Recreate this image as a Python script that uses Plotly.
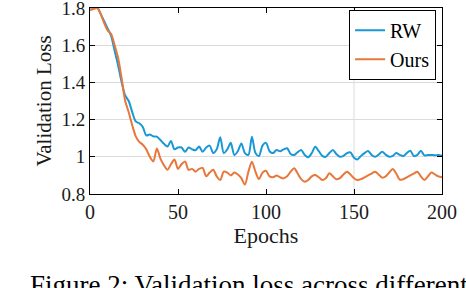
import plotly.graph_objects as go

epochs = list(range(0, 201, 2))

rw_loss = [1.79, 1.795, 1.805, 1.77, 1.73, 1.69, 1.65, 1.57, 1.49, 1.40,
           1.33, 1.30, 1.24, 1.19, 1.18, 1.16, 1.115, 1.12, 1.11, 1.108,
           1.09, 1.07, 1.055, 1.085, 1.04, 1.05, 1.05, 1.027, 1.05, 1.04,
           1.035, 1.055, 1.027, 1.05, 1.06, 1.02, 1.04, 1.105, 1.02, 1.04,
           1.075, 1.01, 1.03, 1.072, 1.02, 1.01, 1.108, 1.02, 1.004, 1.06,
           1.075, 1.03, 1.02, 1.037, 1.03, 1.04, 1.046, 1.015, 1.01, 1.025,
           1.037, 1.01, 0.997, 1.02, 1.054, 1.03, 1.005, 1.0, 1.02, 1.037,
           1.015, 1.0, 1.005, 1.02, 1.024, 0.995, 0.986, 1.005, 1.02, 1.031,
           1.01, 1.0, 1.012, 1.027, 1.012, 1.0, 1.005, 1.02, 1.01, 1.004,
           1.02, 1.033, 1.004, 1.01, 1.033, 1.008, 1.01, 1.01, 1.008, 1.01,
           1.006]

ours_loss = [1.79, 1.795, 1.80, 1.77, 1.72, 1.68, 1.66, 1.60, 1.53, 1.42,
             1.30, 1.24, 1.17, 1.11, 1.08, 1.065, 1.04, 1.00, 0.975, 1.045,
             0.99, 0.955, 0.93, 0.96, 0.985, 0.935, 0.96, 0.975, 0.93, 0.935,
             0.92, 0.935, 0.94, 0.895, 0.915, 0.93, 0.895, 0.875, 0.92, 0.915,
             0.90, 0.915, 0.905, 0.885, 0.85, 0.92, 0.974, 0.92, 0.88, 0.915,
             0.925, 0.895, 0.89, 0.90, 0.89, 0.884, 0.895, 0.92, 0.938, 0.91,
             0.88, 0.866, 0.875, 0.895, 0.902, 0.89, 0.875, 0.885, 0.911, 0.895,
             0.879, 0.885, 0.905, 0.92, 0.905, 0.885, 0.875, 0.88, 0.89, 0.90,
             0.91, 0.92, 0.905, 0.888, 0.895, 0.915, 0.934, 0.91, 0.877, 0.88,
             0.89, 0.90, 0.91, 0.92, 0.895, 0.875, 0.895, 0.915, 0.905, 0.895,
             0.89]

x_ticks = [0, 50, 100, 150, 200]
y_ticks = [0.8, 1.0, 1.2, 1.4, 1.6, 1.8]
y_tick_labels = ["0.8", "1", "1.2", "1.4", "1.6", "1.8"]

FONT = "Liberation Serif, Times New Roman, serif"

fig = go.Figure()
fig.add_trace(go.Scatter(x=epochs, y=rw_loss, name="RW", mode="lines",
                         line=dict(color="#1a98d6", width=2, shape="spline", smoothing=0.8)))
fig.add_trace(go.Scatter(x=epochs, y=ours_loss, name="Ours", mode="lines",
                         line=dict(color="#e8773a", width=2, shape="spline", smoothing=0.8)))

# single visible vertical grid line at epoch 150
fig.add_shape(type="line", xref="x", yref="paper", x0=150, x1=150, y0=0, y1=1,
              line=dict(color="#dcdcdc", width=1), layer="below")

fig.update_layout(
    width=466, height=288,
    margin=dict(l=90, r=24, t=8, b=94, autoexpand=False),
    paper_bgcolor="white", plot_bgcolor="white",
    font=dict(family=FONT, size=20, color="#1a1a1a"),
    showlegend=True,
    legend=dict(x=0.736, y=0.99, xanchor="left", yanchor="top",
                bordercolor="black", borderwidth=1, bgcolor="white",
                font=dict(family=FONT, size=20, color="black"),
                itemwidth=30, tracegroupgap=0),
    xaxis=dict(range=[0, 200], tickvals=x_ticks, showgrid=False, automargin=False,
               showline=True, linecolor="black", linewidth=1, mirror="ticks",
               ticks="inside", ticklen=5, tickcolor="black",
               ticklabeloverflow="allow",
               tickfont=dict(family=FONT, size=20),
               title=dict(text="Epochs", font=dict(family=FONT, size=22), standoff=2),
               zeroline=False),
    yaxis=dict(range=[0.8, 1.8], tickvals=y_ticks, ticktext=y_tick_labels,
               showgrid=True, gridcolor="#dcdcdc", gridwidth=1, automargin=False,
               showline=True, linecolor="black", linewidth=1, mirror="ticks",
               ticks="inside", ticklen=5, tickcolor="black",
               ticklabeloverflow="allow",
               tickfont=dict(family=FONT, size=19),
               title=dict(text="Validation Loss", font=dict(family=FONT, size=21), standoff=4),
               zeroline=False),
)

fig.add_annotation(text="Figure 2: Validation loss across different",
                   xref="paper", yref="paper", x=-0.177, y=-0.40,
                   xanchor="left", yanchor="top", showarrow=False,
                   font=dict(family=FONT, size=27, color="black"))

fig.write_html("out.html", config={"displayModeBar": False},
               post_script="document.body.style.margin='0';")
